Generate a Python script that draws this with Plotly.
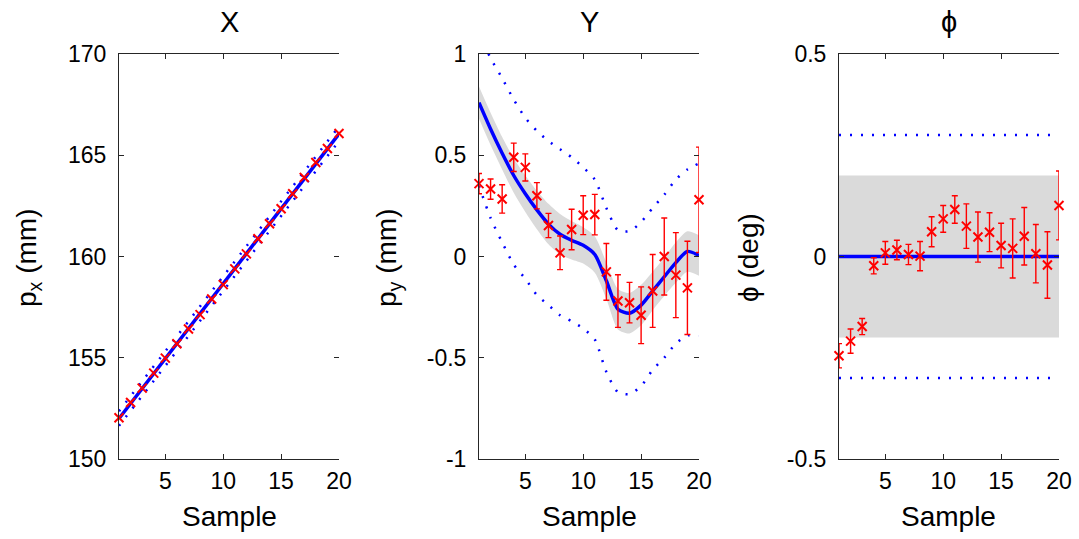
import plotly.graph_objects as go

# ---------------- data ----------------
sample = list(range(1, 21))

# X panel (mm)
px_meas = [152.04, 152.79, 153.50, 154.24, 154.98, 155.69, 156.42, 157.13, 157.90, 158.61,
           159.39, 160.13, 160.88, 161.62, 162.36, 163.10, 163.90, 164.64, 165.33, 166.07]
px_mean = [152.00, 152.74, 153.48, 154.22, 154.96, 155.70, 156.44, 157.18, 157.92, 158.66,
           159.40, 160.14, 160.88, 161.62, 162.36, 163.10, 163.84, 164.58, 165.32, 166.06]
px_band_hi = [152.12, 152.86, 153.60, 154.34, 155.08, 155.82, 156.56, 157.30, 158.04, 158.78,
              159.52, 160.26, 161.00, 161.74, 162.48, 163.22, 163.96, 164.70, 165.44, 166.18]
px_band_lo = [151.88, 152.62, 153.36, 154.10, 154.84, 155.58, 156.32, 157.06, 157.80, 158.54,
              159.28, 160.02, 160.76, 161.50, 162.24, 162.98, 163.72, 164.46, 165.20, 165.94]
px_dot_hi = [152.36, 153.10, 153.84, 154.58, 155.32, 156.06, 156.80, 157.54, 158.28, 159.02,
             159.76, 160.50, 161.24, 161.98, 162.72, 163.46, 164.20, 164.94, 165.68, 166.42]
px_dot_lo = [151.64, 152.38, 153.12, 153.86, 154.60, 155.34, 156.08, 156.82, 157.56, 158.30,
             159.04, 159.78, 160.52, 161.26, 162.00, 162.74, 163.48, 164.22, 164.96, 165.70]

# Y panel (mm)
py_meas = [0.36, 0.333, 0.284, 0.49, 0.44, 0.30, 0.153, 0.018, 0.133, 0.204,
           0.207, -0.076, -0.22, -0.228, -0.29, -0.17, 0.0, -0.092, -0.155, 0.28]
py_err = [0.05, 0.05, 0.07, 0.07, 0.067, 0.065, 0.06, 0.083, 0.10, 0.096,
          0.10, 0.14, 0.13, 0.10, 0.14, 0.18, 0.19, 0.21, 0.23, 0.26]
py_mean = [0.76, 0.63, 0.51, 0.40, 0.31, 0.23, 0.16, 0.11, 0.08, 0.055,
           0.01, -0.12, -0.26, -0.28, -0.24, -0.17, -0.10, -0.03, 0.025, 0.005]
py_band_hi = [0.84, 0.71, 0.59, 0.485, 0.40, 0.325, 0.26, 0.21, 0.175, 0.145,
              0.10, -0.03, -0.16, -0.18, -0.14, -0.075, -0.005, 0.07, 0.125, 0.105]
py_band_lo = [0.68, 0.55, 0.43, 0.315, 0.22, 0.135, 0.06, 0.01, -0.015, -0.035,
              -0.08, -0.21, -0.36, -0.38, -0.34, -0.265, -0.195, -0.13, -0.075, -0.095]
py_dot_hi = [1.10, 0.98, 0.88, 0.775, 0.685, 0.62, 0.57, 0.53, 0.49, 0.44,
             0.38, 0.24, 0.13, 0.125, 0.17, 0.24, 0.305, 0.38, 0.43, 0.46]
py_dot_lo = [0.35, 0.19, 0.07, -0.04, -0.11, -0.19, -0.24, -0.29, -0.32, -0.355,
             -0.41, -0.57, -0.67, -0.68, -0.64, -0.56, -0.50, -0.43, -0.39, -0.39]

# phi panel (deg)
phi_meas = [-0.245, -0.209, -0.173, -0.023, 0.009, 0.016, 0.005, 0.001, 0.061, 0.093,
            0.116, 0.075, 0.048, 0.060, 0.027, 0.020, 0.050, 0.007, -0.021, 0.126]
phi_err = [0.03, 0.03, 0.02, 0.02, 0.028, 0.024, 0.025, 0.036, 0.037, 0.033,
           0.034, 0.055, 0.062, 0.048, 0.055, 0.073, 0.071, 0.072, 0.082, 0.085]
phi_mean = [0.0] * 20
phi_band_hi = [0.2] * 20
phi_band_lo = [-0.2] * 20
phi_dot_hi = [0.3] * 20
phi_dot_lo = [-0.3] * 20

# axis ticks
x_ticks = [5, 10, 15, 20]
px_ticks = [150, 155, 160, 165, 170]
px_ticktext = ["150", "155", "160", "165", "170"]
py_ticks = [-1, -0.5, 0, 0.5, 1]
py_ticktext = ["-1", "-0.5", "0", "0.5", "1"]
phi_ticks = [-0.5, 0, 0.5]
phi_ticktext = ["-0.5", "0", "0.5"]

titles = ["X", "Y", "\u03d5"]
ylabels = ["p<sub>x</sub> (mm)", "p<sub>y</sub> (mm)", "\u03d5 (deg)"]

# ---------------- style ----------------
W, H = 1079, 539
FONT = "Liberation Sans, Arial, sans-serif"
BLUE = "rgb(0,0,255)"
RED = "rgb(255,0,0)"
GRAY = "rgb(218,218,218)"
AXC = "#262626"

panels_px = [(119, 339), (479, 699), (839, 1059)]
top_px, bot_px = 54, 459
ydom = [(H - bot_px) / H, (H - top_px) / H]

fig = go.Figure()

series = [
    (px_meas, None, px_mean, px_band_hi, px_band_lo, px_dot_hi, px_dot_lo, "linear"),
    (py_meas, py_err, py_mean, py_band_hi, py_band_lo, py_dot_hi, py_dot_lo, "spline"),
    (phi_meas, phi_err, phi_mean, phi_band_hi, phi_band_lo, phi_dot_hi, phi_dot_lo, "linear"),
]

for i, (meas, err, mean, bhi, blo, dhi, dlo, shape) in enumerate(series):
    xa = "x" if i == 0 else f"x{i + 1}"
    ya = "y" if i == 0 else f"y{i + 1}"
    common = dict(xaxis=xa, yaxis=ya, showlegend=False, hoverinfo="skip")
    # confidence band
    fig.add_trace(go.Scatter(x=sample, y=bhi, mode="lines",
                             line=dict(width=0, color=GRAY, shape=shape, smoothing=0.7),
                             **common))
    fig.add_trace(go.Scatter(x=sample, y=blo, mode="lines", fill="tonexty", fillcolor=GRAY,
                             line=dict(width=0, color=GRAY, shape=shape, smoothing=0.7),
                             **common))
    # dotted bounds
    for d in (dhi, dlo):
        fig.add_trace(go.Scatter(x=sample, y=d, mode="lines",
                                 line=dict(color=BLUE, width=2.5, dash="2px,9px",
                                           shape=shape, smoothing=0.7),
                                 **common))
    # mean
    fig.add_trace(go.Scatter(x=sample, y=mean, mode="lines",
                             line=dict(color=BLUE, width=3.5, shape=shape, smoothing=0.7),
                             **common))
    # measurements
    ey = None
    if err is not None:
        ey = dict(type="data", array=err, color=RED, thickness=1.4, width=3)
    fig.add_trace(go.Scatter(x=sample, y=meas, mode="markers", error_y=ey, cliponaxis=False,
                             marker=dict(symbol="x-thin", size=9, color=RED,
                                         line=dict(color=RED, width=2)),
                             **common))
    # right-side tick holder
    fig.add_trace(go.Scatter(x=[None], y=[None], xaxis=xa, yaxis=f"y{i + 4}",
                             showlegend=False, hoverinfo="skip"))

ytickinfo = [(px_ticks, px_ticktext, [150, 170]),
             (py_ticks, py_ticktext, [-1, 1]),
             (phi_ticks, phi_ticktext, [-0.5, 0.5])]

layout = dict(width=W, height=H,
              margin=dict(l=0, r=0, t=0, b=0, pad=0, autoexpand=False),
              paper_bgcolor="white", plot_bgcolor="white", showlegend=False,
              font=dict(family=FONT, color="black"))

annotations = []
for i, (x0, x1) in enumerate(panels_px):
    sfx = "" if i == 0 else str(i + 1)
    tv, tt, rng = ytickinfo[i]
    layout[f"xaxis{sfx}"] = dict(
        domain=[x0 / W, x1 / W], range=[1, 20], anchor=f"y{sfx}", automargin=False,
        tickvals=x_ticks, ticktext=[str(v) for v in x_ticks],
        ticks="inside", ticklen=5, tickcolor=AXC, showline=True, linecolor=AXC,
        linewidth=1, mirror="ticks", showgrid=False, zeroline=False,
        tickfont=dict(size=23, family=FONT), ticklabelstandoff=1)
    layout[f"yaxis{sfx}"] = dict(
        domain=ydom, range=rng, anchor=f"x{sfx}", automargin=False,
        tickvals=tv, ticktext=tt,
        ticks="inside", ticklen=5, tickcolor=AXC, showline=True, linecolor=AXC,
        linewidth=1, showgrid=False, zeroline=False,
        tickfont=dict(size=23, family=FONT), ticklabelstandoff=7)
    layout[f"yaxis{i + 4}"] = dict(
        overlaying=f"y{sfx}", side="right", anchor=f"x{sfx}", range=rng, automargin=False,
        tickvals=tv, showticklabels=False, ticks="inside", ticklen=5, tickcolor=AXC,
        showline=False, showgrid=False, zeroline=False)
    cx = (x0 + x1) / 2 / W
    annotations.append(dict(text=titles[i], x=cx, y=(H - 22) / H, xref="paper", yref="paper",
                            showarrow=False, xanchor="center", yanchor="middle",
                            font=dict(size=29, family=FONT)))
    annotations.append(dict(text="Sample", x=cx, y=(H - 516) / H, xref="paper", yref="paper",
                            showarrow=False, xanchor="center", yanchor="middle",
                            font=dict(size=28, family=FONT)))
    annotations.append(dict(text=ylabels[i], x=(x0 - 91) / W, y=(H - 258) / H,
                            xref="paper", yref="paper", textangle=-90,
                            showarrow=False, xanchor="center", yanchor="middle",
                            font=dict(size=28, family=FONT)))

layout["annotations"] = annotations
fig.update_layout(**layout)
fig.write_html("out.html")
